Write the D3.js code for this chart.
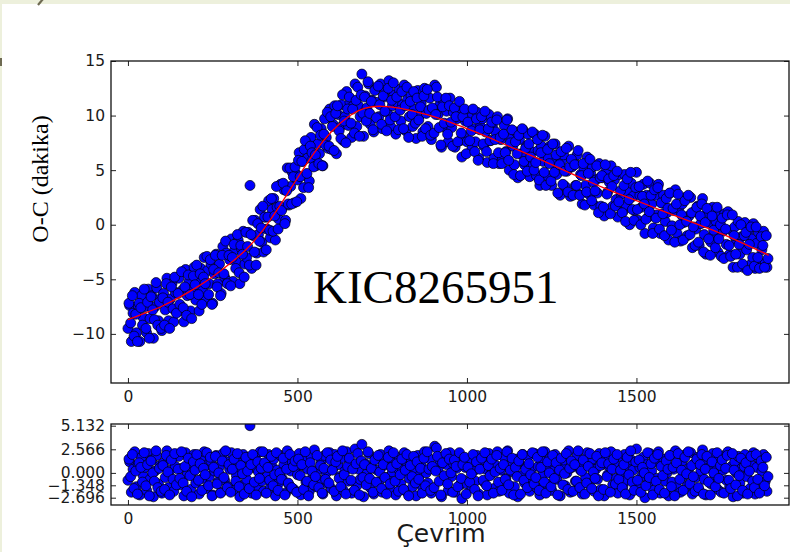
<!DOCTYPE html>
<html><head><meta charset="utf-8">
<script src="https://cdn.jsdelivr.net/npm/d3@7/dist/d3.min.js"></script>
<style>body{margin:0;background:#fff;overflow:hidden} svg{display:block}</style>
</head><body>
<script>
// ---- data (eclipse cycle numbers, O-C in minutes, residuals in minutes) ----
const cyclesA = [
0,5,10,15,20,25,30,35,40,45, 50,55,60,65,70,75,80,85,90,95,
100,105,110,115,120,125,130,135,140,145, 150,155,160,165,170,175,180,185,190,195,
200,205,210,215,220,225,230,235,240,245, 250,255,260,265,270,275,280,285,290,295,
300,305,310,315,320,325,330,335,340,345, 350,355,360,365,370,375,380,385,390,395,
400,405,410,415,420,425,430,435,440,445, 450,455,460,465,470,475,480,485,490,495,
500,505,510,515,520,525,530,535,540,545, 550,555,560,565,570,575,580,585,590,595,
600,605,610,615,620,625,630,635,640,645, 650,655,660,665,670,675,680,685,690,695,
700,705,710,715,720,725,730,735,740,745, 750,755,760,765,770,775,780,785,790,795,
800,805,810,815,820,825,830,835,840,845, 850,855,860,865,870,875,880,885,890,895,
900,905,910,915,920,925,930,935,940,945, 950,955,960,965,970,975,980,985,990,995,
1000,1005,1010,1015,1020,1025,1030,1035,1040,1045, 1050,1055,1060,1065,1070,1075,1080,1085,1090,1095,
1100,1105,1110,1115,1120,1125,1130,1135,1140,1145, 1150,1155,1160,1165,1170,1175,1180,1185,1190,1195,
1200,1205,1210,1215,1220,1225,1230,1235,1240,1245, 1250,1255,1260,1265,1270,1275,1280,1285,1290,1295,
1300,1305,1310,1315,1320,1325,1330,1335,1340,1345, 1350,1355,1360,1365,1370,1375,1380,1385,1390,1395,
1400,1405,1410,1415,1420,1425,1430,1435,1440,1445, 1450,1455,1460,1465,1470,1475,1480,1485,1490,1495,
1500,1505,1510,1515,1520,1525,1530,1535,1540,1545, 1550,1555,1560,1565,1570,1575,1580,1585,1590,1595,
1600,1605,1610,1615,1620,1625,1630,1635,1640,1645, 1650,1655,1660,1665,1670,1675,1680,1685,1690,1695,
1700,1705,1710,1715,1720,1725,1730,1735,1740,1745, 1750,1755,1760,1765,1770,1775,1780,1785,1790,1795,
1800,1805,1810,1815,1820,1825,1830,1835,1840,1845, 1850,1855,1860,1865,1870,1875,1880,1885
];
const ocA = [
-9.5,-7.4,-10.7,-8.1,-6.2,-9.9,-7.4,-10.7,-6.5,-8.5, -7.5,-9.9,-5.9,-8.6,-6.5,-10.4,-7.5,-5.8,-8.8,-6.8,
-9.7,-6.3,-7.8,-4.9,-8.8,-6.8,-5.4,-8.9,-6.2,-7.7, -4.9,-7.9,-6.0,-8.9,-4.1,-6.5,-5.2,-7.9,-5.9,-3.9,
-6.9,-5.1,-7.9,-4.0,-6.0,-3.0,-6.9,-4.2,-5.4,-3.6, -7.2,-4.5,-2.7,-5.4,-3.6,-6.3,-2.0,-4.8,-2.6,-5.2,
-3.2,-1.3,-5.2,-2.3,-3.4,-1.4,-5.4,-2.2,-0.6,-3.6, -3.0,-0.7,3.6,-4.0,-1.0,0.4,-2.6,-0.9,1.4,-1.6,
-2.5,0.7,-0.4,2.2,-1.2,1.4,2.4,-1.4,1.6,0.5, 3.7,1.5,3.2,0.4,5.2,1.8,3.5,4.8,2.0,4.7,
4.1,6.6,2.4,5.8,6.9,4.5,6.1,4.0,8.0,6.0, 9.2,5.4,7.4,6.5,8.8,5.4,9.7,8.0,7.0,10.6,
6.9,9.2,10.9,6.5,10.1,8.9,11.0,7.7,9.9,12.2, 9.1,11.2,8.0,10.9,12.9,9.0,10.9,9.9,13.8,8.1,
11.8,10.7,12.9,9.2,11.4,8.5,12.4,11.2,9.9,12.9, 8.8,11.7,12.3,10.3,13.2,9.0,10.9,11.9,8.3,11.2,
12.4,9.5,11.0,12.8,8.6,11.5,9.9,11.8,9.0,10.6, 7.9,12.3,10.0,11.1,8.5,12.5,10.2,9.0,11.6,7.8,
10.6,12.8,12.6,10.1,11.0,7.1,11.4,8.9,10.4,7.6, 11.6,8.9,10.3,7.1,9.7,10.7,7.7,6.2,8.1,9.5,
7.6,10.0,9.8,7.0,8.8,7.6,10.3,6.1,9.0,9.7, 7.2,8.5,5.7,10.1,7.7,9.0,6.1,8.5,9.9,5.6,
7.8,6.1,9.1,6.7,9.7,5.0,8.0,7.2,5.5,8.5, 4.3,7.8,6.5,8.7,5.5,7.2,8.3,4.4,6.7,5.5,
8.3,4.5,6.8,3.6,7.2,5.8,8.1,4.5,6.1,7.2, 3.6,5.6,7.4,4.6,6.3,2.7,5.9,6.4,3.5,4.9,
7.2,2.6,5.3,5.8,3.6,6.4,2.8,4.6,1.9,5.2, 3.6,6.2,2.8,4.7,5.3,1.8,4.1,2.9,5.6,1.7,
4.3,0.8,4.9,3.0,3.9,5.4,1.7,4.1,2.3,0.7, 4.6,2.8,1.2,4.6,1.8,3.0,0.0,3.8,2.6,1.3,
4.8,0.4,2.7,1.6,3.7,-0.8,2.7,0.7,3.8,1.9, -0.3,2.7,0.9,3.7,-0.8,2.0,2.7,0.3,1.1,-1.4,
2.9,-0.1,1.3,3.2,-0.8,1.5,-1.5,1.9,0.2,2.5, -1.0,0.8,2.5,-2.1,1.2,-0.4,1.7,-1.9,0.1,2.4,
-0.9,-2.7,1.1,0.2,-1.6,1.6,-0.8,0.3,-2.5,0.9, -2.9,-0.6,1.0,-1.8,1.2,-2.7,-0.5,-3.9,-0.2,-1.4,
0.3,-2.7,-1.1,-3.9,0.2,-2.3,-0.8,-3.7,-1.3,0.1, -4.0,-1.7,-0.7,-3.7,-2.3,-0.6,-3.5,-3.9
];
const residA = [
-0.8,1.2,-2.1,0.4,2.3,-1.5,0.9,-2.4,1.7,-0.3, 0.6,-1.9,2.1,-0.7,1.4,-2.6,0.2,1.9,-1.2,0.8,
-2.2,1.1,-0.5,2.4,-1.6,0.3,1.6,-2.0,0.7,-0.9, 1.8,-1.3,0.5,-2.5,2.2,-0.2,1.0,-1.8,0.1,2.0,
-1.1,0.6,-2.3,1.5,-0.6,2.3,-1.7,0.9,-0.4,1.3, -2.4,0.2,1.9,-1.0,0.7,-2.1,2.1,-0.8,1.2,-1.5,
0.4,2.2,-1.9,0.9,-0.3,1.6,-2.6,0.5,2.0,-1.2, -0.7,1.4,5.13,-2.2,0.6,1.8,-1.4,0.1,2.3,-0.9,
-2.0,1.0,-0.4,2.0,-1.6,0.7,1.5,-2.5,0.3,-1.1, 1.9,-0.6,0.9,-2.2,2.4,-1.3,0.2,1.2,-1.8,0.6,
-0.2,2.1,-2.4,0.8,1.6,-1.0,0.4,-2.0,1.8,-0.5, 2.5,-1.5,0.3,-0.8,1.3,-2.3,1.9,0.0,-1.2,2.2,
-1.7,0.5,2.0,-2.5,0.9,-0.4,1.6,-1.9,0.2,2.3, -0.9,1.1,-2.2,0.7,2.6,-1.4,0.4,-0.7,3.1,-2.6,
1.0,-0.1,2.1,-1.6,0.6,-2.3,1.5,0.3,-1.0,2.0, -2.1,0.8,1.4,-0.5,2.4,-1.8,0.1,1.1,-2.4,0.5,
1.7,-1.2,0.4,2.2,-2.0,0.9,-0.6,1.3,-1.5,0.2, -2.5,1.9,-0.3,0.8,-1.7,2.3,0.0,-1.1,1.5,-2.2,
0.6,2.9,2.7,0.3,1.2,-2.6,1.8,-0.7,0.9,-1.9, 2.2,-0.4,1.0,-2.1,0.5,1.6,-1.3,-2.8,-0.8,0.6,
-1.2,1.3,1.1,-1.6,0.2,-0.9,1.9,-2.3,0.7,1.4, -1.0,0.4,-2.4,2.1,-0.2,1.1,-1.7,0.8,2.3,-2.0,
0.3,-1.3,1.7,-0.6,2.4,-2.2,0.9,0.1,-1.5,1.5, -2.6,1.0,-0.3,2.0,-1.1,0.6,1.8,-2.0,0.4,-0.8,
2.1,-1.6,0.7,-2.4,1.3,-0.1,2.3,-1.2,0.5,1.6, -1.9,0.2,2.0,-0.7,1.1,-2.5,0.8,1.4,-1.4,0.0,
2.4,-2.1,0.6,1.2,-0.9,1.9,-1.6,0.3,-2.3,1.0, -0.5,2.2,-1.2,0.8,1.5,-2.0,0.4,-0.7,2.1,-1.8,
0.9,-2.5,1.6,-0.2,0.7,2.3,-1.3,1.1,-0.6,-2.2, 1.8,0.1,-1.5,2.0,-0.8,0.5,-2.4,1.4,0.3,-1.0,
2.6,-1.7,0.6,-0.4,1.7,-2.7,0.9,-1.1,2.1,0.2, -1.9,1.2,-0.6,2.3,-2.2,0.7,1.5,-0.9,0.0,-2.5,
1.9,-1.0,0.4,2.4,-1.6,0.8,-2.1,1.3,-0.3,2.0, -1.4,0.5,2.2,-2.3,1.0,-0.5,1.7,-1.9,0.2,2.5,
-0.7,-2.4,1.4,0.6,-1.2,2.1,-0.2,0.9,-1.8,1.6, -2.1,0.3,1.9,-0.8,2.3,-1.5,0.7,-2.6,1.2,0.0,
1.8,-1.1,0.5,-2.2,2.0,-0.4,1.1,-1.7,0.8,2.2, -2.3,0.6,1.6,-1.3,0.2,2.0,-0.9,-2.0
];
const cyclesB = [
3,8,13,18,23,28,33,38,43,48, 53,58,63,68,73,78,83,88,93,98,
103,108,113,118,123,128,133,138,143,148, 153,158,163,168,173,178,183,188,193,198,
203,208,213,218,223,228,233,238,243,248, 253,258,263,268,273,278,283,288,293,298,
303,308,313,318,323,328,333,338,343,348, 353,358,363,368,373,378,383,388,393,398,
403,408,413,418,423,428,433,438,443,448, 453,458,463,468,473,478,483,488,493,498,
503,508,513,518,523,528,533,538,543,548, 553,558,563,568,573,578,583,588,593,598,
603,608,613,618,623,628,633,638,643,648, 653,658,663,668,673,678,683,688,693,698,
703,708,713,718,723,728,733,738,743,748, 753,758,763,768,773,778,783,788,793,798,
803,808,813,818,823,828,833,838,843,848, 853,858,863,868,873,878,883,888,893,898,
903,908,913,918,923,928,933,938,943,948, 953,958,963,968,973,978,983,988,993,998,
1003,1008,1013,1018,1023,1028,1033,1038,1043,1048, 1053,1058,1063,1068,1073,1078,1083,1088,1093,1098,
1103,1108,1113,1118,1123,1128,1133,1138,1143,1148, 1153,1158,1163,1168,1173,1178,1183,1188,1193,1198,
1203,1208,1213,1218,1223,1228,1233,1238,1243,1248, 1253,1258,1263,1268,1273,1278,1283,1288,1293,1298,
1303,1308,1313,1318,1323,1328,1333,1338,1343,1348, 1353,1358,1363,1368,1373,1378,1383,1388,1393,1398,
1403,1408,1413,1418,1423,1428,1433,1438,1443,1448, 1453,1458,1463,1468,1473,1478,1483,1488,1493,1498,
1503,1508,1513,1518,1523,1528,1533,1538,1543,1548, 1553,1558,1563,1568,1573,1578,1583,1588,1593,1598,
1603,1608,1613,1618,1623,1628,1633,1638,1643,1648, 1653,1658,1663,1668,1673,1678,1683,1688,1693,1698,
1703,1708,1713,1718,1723,1728,1733,1738,1743,1748, 1753,1758,1763,1768,1773,1778,1783,1788,1793,1798,
1803,1808,1813,1818,1823,1828,1833,1838,1843,1848, 1853,1858,1863,1868,1873,1878,1883,1888
];
const ocB = [
-7.2,-9.0,-6.5,-10.2,-8.2,-10.7,-7.2,-7.6,-9.2,-5.9, -9.5,-7.1,-10.4,-6.6,-7.8,-8.7,-5.3,-9.2,-7.1,-9.5,
-6.7,-9.2,-5.4,-7.1,-9.5,-5.7,-7.7,-4.8,-8.1,-6.3, -7.3,-4.3,-7.6,-5.7,-8.3,-4.6,-6.4,-8.6,-4.7,-5.5,
-3.7,-6.4,-4.5,-7.3,-4.8,-5.4,-2.9,-6.4,-3.2,-7.3, -4.1,-2.8,-5.7,-4.4,-6.5,-2.8,-4.5,-1.5,-5.4,-2.8,
-5.6,-3.0,-1.8,-4.0,-0.9,-4.4,-1.9,-2.7,-4.8,-0.7, -2.0,-3.7,-0.9,0.4,-2.5,-3.7,0.1,-1.5,-0.3,1.7,
0.7,-2.3,0.7,-0.5,2.4,-0.6,0.8,3.5,-0.4,1.7, 1.3,3.8,0.1,3.1,1.9,5.2,1.9,4.4,5.3,2.1,
5.9,4.4,5.8,3.4,7.7,4.7,3.4,7.2,6.6,5.3, 6.4,8.9,5.6,8.2,5.4,8.3,7.3,10.3,7.2,9.9,
9.0,6.8,10.2,10.9,8.6,7.9,11.9,9.5,7.5,10.6, 11.7,9.3,10.6,8.4,11.4,12.6,8.1,11.9,10.2,11.7,
9.5,13.1,10.2,11.3,8.7,12.3,9.8,12.7,11.0,9.2, 11.8,10.4,8.6,12.5,9.6,11.4,13.0,9.9,11.7,8.7,
10.5,12.2,8.8,10.9,12.6,8.0,11.3,10.1,12.2,9.3, 11.6,9.6,10.8,8.1,11.8,8.8,12.4,10.5,8.2,10.7,
8.4,10.1,11.7,8.9,7.3,10.8,9.3,11.6,8.3,10.9, 9.4,7.2,10.7,9.9,7.6,11.3,8.4,9.9,10.6,6.5,
9.4,7.7,8.6,10.6,6.7,9.7,5.9,8.7,9.9,7.4, 10.4,6.7,8.8,7.7,9.4,5.6,7.8,9.6,6.6,8.0,
5.6,8.3,6.6,9.6,5.9,7.5,8.7,4.6,7.6,6.5, 8.2,4.5,8.8,5.8,7.0,4.9,7.4,6.2,8.5,5.0,
5.7,7.8,4.1,6.6,8.2,4.8,3.6,6.9,5.6,4.0, 7.4,4.8,6.4,2.9,5.5,6.7,3.7,4.9,7.0,3.0,
5.3,6.0,2.7,5.5,3.6,6.8,2.7,4.5,5.6,1.8, 3.0,4.7,6.0,2.2,3.9,3.1,5.4,1.1,4.3,4.5,
1.6,5.5,2.8,4.2,1.0,3.5,4.5,1.7,4.9,2.1, 3.1,1.1,3.6,0.3,4.2,2.3,4.8,1.4,0.4,3.4,
1.4,3.5,0.0,2.6,1.9,0.5,4.0,1.2,2.7,-0.8, 3.2,0.6,3.4,-0.4,2.0,1.0,-1.0,2.4,1.5,2.9,
-0.5,1.5,-1.6,1.9,2.8,0.0,0.9,-1.4,2.2,0.3, 2.7,-0.9,1.1,-0.2,-1.9,1.6,-1.6,0.8,1.9,-2.5,
0.2,1.5,-1.3,-2.8,0.8,-0.5,-2.1,1.6,-1.3,0.0, 0.6,-3.1,-0.4,0.9,-1.9,-2.9,0.9,-1.0,-2.7,-3.9,
-1.8,0.0,-3.6,-1.0,-0.7,-4.2,-1.8,-0.2,-3.0,-3.8, -0.2,-3.0,-4.0,-1.1,-1.9,-3.9,-1.0,-3.1
];
const residB = [
1.5,-0.4,2.0,-1.7,0.2,-2.3,1.1,0.6,-1.0,2.2, -1.4,0.9,-2.5,1.3,0.0,-0.9,2.4,-1.6,0.5,-2.0,
0.8,-1.8,1.9,0.1,-2.4,1.4,-0.7,2.1,-1.3,0.4, -0.6,2.3,-1.1,0.7,-2.0,1.6,-0.3,-2.6,1.2,0.3,
2.0,-0.8,1.0,-1.9,0.5,-0.2,2.2,-1.4,1.7,-2.5, 0.6,1.8,-1.2,0.0,-2.2,1.3,-0.5,2.4,-1.6,0.9,
-2.1,0.4,1.5,-0.9,2.1,-1.5,0.8,-0.1,-2.3,1.7, 0.2,-1.7,0.9,2.0,-1.0,-2.4,1.2,-0.6,0.5,2.3,
1.1,-2.2,0.6,-0.8,1.8,-1.4,-0.2,2.2,-1.9,0.0, -0.7,1.6,-2.4,0.4,-1.1,2.0,-1.6,0.7,1.3,-2.1,
1.5,-0.3,0.9,-1.8,2.3,-0.9,-2.5,1.1,0.2,-1.3, -0.4,1.9,-1.6,0.8,-2.2,0.5,-0.7,2.2,-1.1,1.4,
0.3,-2.0,1.2,1.8,-0.6,-1.5,2.4,-0.2,-2.3,0.7, 1.6,-0.8,0.4,-1.9,1.0,2.1,-2.4,1.3,-0.5,0.9,
-1.3,2.3,-0.6,0.5,-2.1,1.4,-1.0,1.9,0.1,-1.7, 0.9,-0.5,-2.3,1.7,-1.2,0.6,2.2,-0.9,1.0,-2.0,
-0.2,1.5,-1.8,0.3,2.0,-2.5,0.8,-0.4,1.8,-1.1, 1.2,-0.7,0.5,-2.2,1.6,-1.4,2.3,0.4,-1.9,0.7,
-1.6,0.2,1.8,-0.9,-2.4,1.1,-0.3,2.1,-1.2,1.5, 0.0,-2.1,1.4,0.7,-1.5,2.2,-0.6,0.9,1.7,-2.3,
0.6,-1.0,-0.1,2.0,-1.8,1.2,-2.5,0.4,1.6,-0.8, 2.2,-1.4,0.8,-0.3,1.5,-2.2,0.1,1.9,-1.0,0.5,
-1.9,0.9,-0.7,2.3,-1.3,0.3,1.6,-2.4,0.6,-0.4, 1.3,-2.3,2.0,-0.8,0.4,-1.6,1.0,-0.2,2.2,-1.2,
-0.5,1.7,-1.9,0.6,2.3,-1.0,-2.2,1.2,0.0,-1.5, 1.9,-0.6,1.1,-2.4,0.3,1.6,-1.3,-0.1,2.1,-1.8,
0.5,1.3,-2.0,0.9,-0.9,2.4,-1.6,0.2,1.4,-2.3, -1.1,0.7,2.1,-1.7,0.1,-0.6,1.8,-2.5,0.8,1.1,
-1.8,2.2,-0.4,1.0,-2.1,0.4,1.5,-1.2,2.0,-0.7, 0.3,-1.6,0.9,-2.3,1.7,-0.2,2.4,-1.0,-1.9,1.2,
-0.8,1.4,-2.1,0.6,0.0,-1.4,2.2,-0.5,1.0,-2.4, 1.6,-0.9,2.0,-1.8,0.7,-0.3,-2.2,1.3,0.4,1.9,
-1.5,0.6,-2.5,1.1,2.1,-0.7,0.3,-1.9,1.7,-0.1, 2.3,-1.2,0.8,-0.4,-2.0,1.5,-1.6,0.9,2.0,-2.3,
0.4,1.8,-1.0,-2.4,1.2,0.0,-1.5,2.2,-0.6,0.8, 1.4,-2.2,0.5,1.9,-0.8,-1.7,2.1,0.3,-1.3,-2.5,
-0.3,1.6,-1.9,0.7,1.1,-2.3,0.2,1.8,-0.9,-1.6, 2.0,-0.7,-2.2,1.3,0.6,-1.4,1.7,-0.4
];
const fitCycles = [0,50,100,150,200,250,300,350,400,450,500,550,600,650,700,750,800,850,900,950,1000,1050,1100,1150,1200,1250,1300,1350,1400,1450,1500,1550,1600,1650,1700,1750,1800,1850,1890];
const fitValues = [-8.7,-8.1,-7.5,-6.7,-5.8,-4.8,-3.6,-2.3,-0.5,1.8,4.3,6.7,8.6,10.0,10.8,10.9,10.7,10.35,9.95,9.4,8.8,8.2,7.5,6.85,6.2,5.5,4.8,4.1,3.4,2.8,2.2,1.6,1.0,0.4,-0.2,-0.8,-1.5,-2.2,-2.8];
const xTickValues = [0, 500, 1000, 1500];
const yTickMain = [-10, -5, 0, 5, 10, 15];
const yTickResid = [5.132, 2.566, 0.000, -1.348, -2.696];
const starLabel = "KIC8265951";
const xAxisTitle = "Çevrim";
const yAxisTitle = "O-C (dakika)";

// ---- layout ----
const W = 790, H = 552;
const L = 111, R = 789;
const main = {top: 61, bottom: 383};
const res = {top: 424, bottom: 505};
const tickFont = "DejaVu Sans, sans-serif";
const serif = "Liberation Serif, Times New Roman, serif";

const svg = d3.select("body").append("svg").attr("width", W).attr("height", H);

// page decoration (slide frame)
svg.append("rect").attr("x",0).attr("y",0).attr("width",W).attr("height",H).attr("fill","#fff");
svg.append("rect").attr("x",0).attr("y",0).attr("width",W).attr("height",4).attr("fill","#edf0dc");
svg.append("rect").attr("x",0).attr("y",0).attr("width",2).attr("height",H).attr("fill","#edf0dc");
svg.append("line").attr("x1",38).attr("y1",5).attr("x2",43).attr("y2",-1).attr("stroke","#6e6a52").attr("stroke-width",2.2);
svg.append("rect").attr("x",0).attr("y",58).attr("width",2).attr("height",8).attr("fill","#6e6a52");

const x = d3.scaleLinear().domain([-50, 1950]).range([L, R]);
const yMain = d3.scaleLinear().domain([-14.5, 15]).range([main.bottom, main.top]);
const yRes = d3.scaleLinear().domain([-3.49, 5.317]).range([res.bottom, res.top]);

const minus = s => s.replace("-", "\u2212");

function panel(box, y, yTicks, yFmt, cid) {
  svg.append("clipPath").attr("id", cid).append("rect")
    .attr("x", L).attr("y", box.top).attr("width", R - L).attr("height", box.bottom - box.top);
  const g = svg.append("g");
  const la = g.append("g").attr("transform", `translate(${L},0)`)
    .call(d3.axisLeft(y).tickValues(yTicks).tickSize(-5).tickPadding(6).tickFormat(yFmt));
  const ra = g.append("g").attr("transform", `translate(${R},0)`)
    .call(d3.axisRight(y).tickValues(yTicks).tickSize(-5).tickFormat(""));
  const ba = g.append("g").attr("transform", `translate(0,${box.bottom})`)
    .call(d3.axisBottom(x).tickValues(xTickValues).tickSize(-5).tickPadding(8).tickFormat(d3.format("d")));
  const ta = g.append("g").attr("transform", `translate(0,${box.top})`)
    .call(d3.axisTop(x).tickValues(xTickValues).tickSize(-5).tickFormat(""));
  [la, ra, ba, ta].forEach(a => {
    a.select(".domain").remove();
    a.selectAll("line").attr("stroke", "#222").attr("stroke-width", 1);
    a.selectAll("text").attr("font-family", tickFont).attr("font-size", 15.5).attr("fill", "#1a1a1a");
  });
  return g;
}

panel(main, yMain, yTickMain, d => minus(String(d)), "clipMain");
panel(res, yRes, yTickResid, d => minus(d3.format(".3f")(d)), "clipRes");

function scatter(cyc, vals, y, cid) {
  const pts = cyc.map((c, i) => ({c, v: vals[i]}));
  svg.append("g").attr("clip-path", `url(#${cid})`)
    .selectAll("circle").data(pts).join("circle")
    .attr("cx", d => x(d.c)).attr("cy", d => y(d.v)).attr("r", 5)
    .attr("fill", "#0000ff").attr("stroke", "#000").attr("stroke-width", 0.7);
}

scatter(cyclesA, ocA, yMain, "clipMain");
scatter(cyclesB, ocB, yMain, "clipMain");

// fit line
const fitPts = fitCycles.map((c, i) => ({c, v: fitValues[i]}));
svg.append("path").datum(fitPts).attr("clip-path", "url(#clipMain)")
  .attr("d", d3.line().x(d => x(d.c)).y(d => yMain(d.v)).curve(d3.curveBasis))
  .attr("fill", "none").attr("stroke", "#ff0000").attr("stroke-width", 1.3);

scatter(cyclesA, residA, yRes, "clipRes");
scatter(cyclesB, residB, yRes, "clipRes");

// spines
[main, res].forEach(b => {
  svg.append("rect").attr("x", L).attr("y", b.top).attr("width", R - L).attr("height", b.bottom - b.top)
    .attr("fill", "none").attr("stroke", "#111").attr("stroke-width", 1.3);
});

// texts
svg.append("text").attr("x", 313).attr("y", 303)
  .attr("font-family", serif).attr("font-size", 47)
  .attr("fill", "#000").text(starLabel);

svg.append("text").attr("transform", `translate(48,179) rotate(-90)`)
  .attr("text-anchor", "middle")
  .attr("font-family", serif).attr("font-size", 24)
  .attr("fill", "#000").text(yAxisTitle);

svg.append("text").attr("x", 441).attr("y", 542).attr("text-anchor", "middle")
  .attr("font-family", tickFont).attr("font-size", 25)
  .attr("fill", "#1a1a1a").text(xAxisTitle);
</script>
</body></html>
